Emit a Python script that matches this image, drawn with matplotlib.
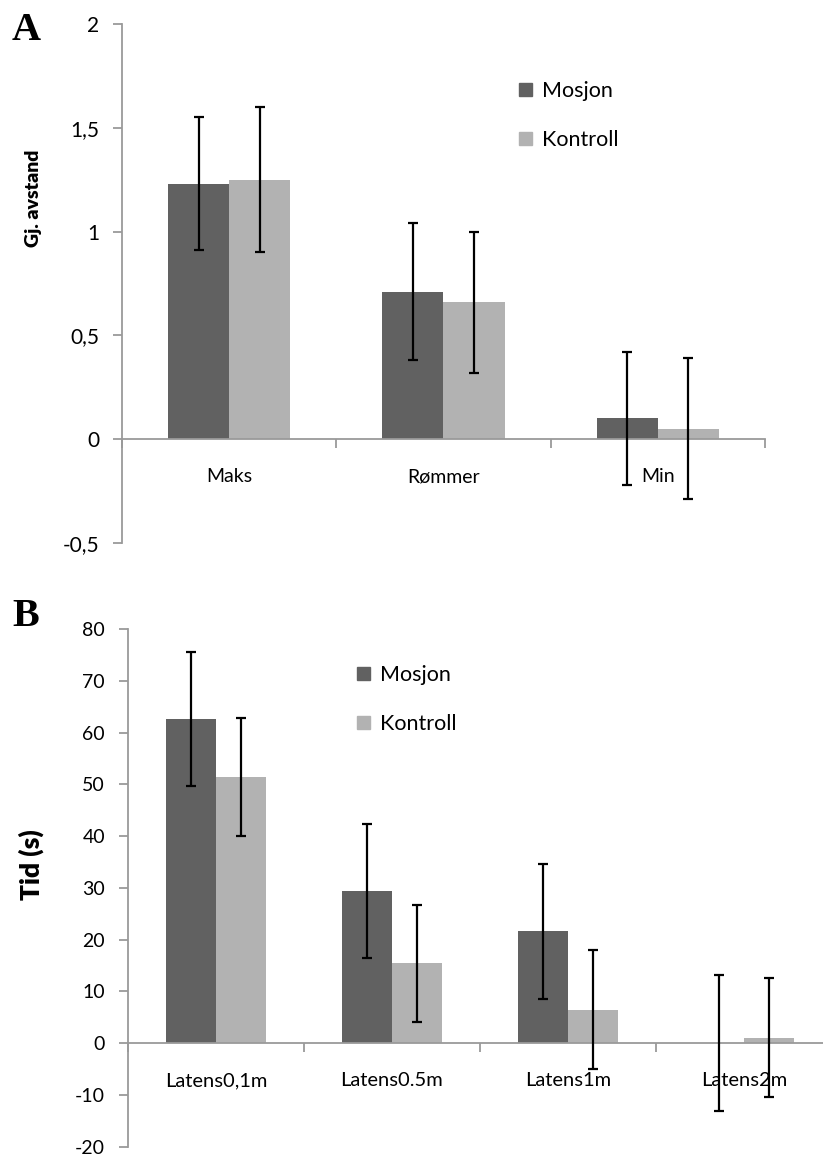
import matplotlib
matplotlib.use("Agg")
import matplotlib.pyplot as plt
from matplotlib.patches import Patch
import numpy as np

plt.rcParams['font.family'] = ['Lato', 'DejaVu Sans']

# panel A
cats_a = ["Maks", "Rømmer", "Min"]
mosjon_a = [1.23, 0.71, 0.10]
mosjon_a_err = [0.32, 0.33, 0.32]
kontroll_a = [1.25, 0.66, 0.05]
kontroll_a_err = [0.35, 0.34, 0.34]
yticks_a = [-0.5, 0, 0.5, 1, 1.5, 2]
yticklabels_a = ["-0,5", "0", "0,5", "1", "1,5", "2"]

# panel B
cats_b = ["Latens0,1m", "Latens0.5m", "Latens1m", "Latens2m"]
mosjon_b = [62.7, 29.4, 21.6, 0.0]
mosjon_b_err = [13.0, 13.0, 13.0, 13.1]
kontroll_b = [51.4, 15.4, 6.4, 1.0]
kontroll_b_err = [11.4, 11.3, 11.5, 11.5]
yticks_b = [-20, -10, 0, 10, 20, 30, 40, 50, 60, 70, 80]

DARK = "#616161"
LIGHT = "#b2b2b2"
AXC = "#9a9a9a"

W, H = 823, 1156
fig = plt.figure(figsize=(W / 100, H / 100), dpi=100)


def px_axes(left, right, top, bottom):
    return fig.add_axes([left / W, 1 - bottom / H, (right - left) / W, (bottom - top) / H])


def draw_panel(ax, cats, m, me, k, ke, ylim, yticks, ylabels, tick_fs, cat_fs):
    n = len(cats)
    x = np.arange(n) + 0.5
    w = 0.285
    ax.bar(x - w / 2, m, w, color=DARK, zorder=2)
    ax.bar(x + w / 2, k, w, color=LIGHT, zorder=2)
    ax.errorbar(x - w / 2, m, yerr=me, fmt='none', ecolor='black',
                elinewidth=1.6, capsize=3.6, capthick=1.6, zorder=3)
    ax.errorbar(x + w / 2, k, yerr=ke, fmt='none', ecolor='black',
                elinewidth=1.6, capsize=3.6, capthick=1.6, zorder=3)
    ax.set_xlim(0, n)
    ax.set_ylim(*ylim)
    ax.set_yticks(yticks)
    ax.set_yticklabels(ylabels, fontsize=tick_fs)
    ax.set_xticks(np.arange(n + 1))
    ax.set_xticklabels([])
    for s in ["top", "right"]:
        ax.spines[s].set_visible(False)
    ax.spines["bottom"].set_position(("data", 0))
    for s in ["left", "bottom"]:
        ax.spines[s].set_color(AXC)
        ax.spines[s].set_linewidth(1.3)
    ax.tick_params(axis='both', direction='out', length=6.5, width=1.3,
                   color=AXC, pad=10)
    for xi, c in zip(x, cats):
        ax.annotate(c, (xi, 0), xytext=(0, -27), textcoords='offset points',
                    ha='center', va='center', fontsize=cat_fs)
    ax.patch.set_visible(False)


axA = px_axes(122, 765, 24, 543)
draw_panel(axA, cats_a, mosjon_a, mosjon_a_err, kontroll_a, kontroll_a_err,
           (-0.5, 2), yticks_a, yticklabels_a, 15, 14)

axB = px_axes(128, 832, 629.3, 1146.5)
draw_panel(axB, cats_b, mosjon_b, mosjon_b_err, kontroll_b, kontroll_b_err,
           (-20, 80), yticks_b, [str(v) for v in yticks_b], 14, 14.5)

handles = [Patch(color=DARK, label="Mosjon"), Patch(color=LIGHT, label="Kontroll")]
for ax, xl, yt in [(axA, 519, 81), (axB, 357, 665)]:
    ax.legend(handles=handles, loc='upper left',
              bbox_to_anchor=(xl / W, 1 - yt / H), bbox_transform=fig.transFigure,
              frameon=False, fontsize=15.5, handlelength=0.6, handleheight=0.6,
              handletextpad=0.45, labelspacing=1.35, borderpad=0, borderaxespad=0)

fig.text(33 / W, 1 - 198 / H, "Gj. avstand", rotation=90, ha='center', va='center',
         fontsize=14, fontweight='heavy')
fig.text(31 / W, 1 - 865 / H, "Tid (s)", rotation=90, ha='center', va='center',
         fontsize=19, fontweight='heavy')
fig.text(12 / W, 1 - 31 / H, "A", ha='left', va='center', fontsize=29,
         fontweight='bold', family=['Liberation Serif'])
fig.text(12 / W, 1 - 617 / H, "B", ha='left', va='center', fontsize=29,
         fontweight='bold', family=['Liberation Serif'])

fig.savefig("out.png", dpi=100)
